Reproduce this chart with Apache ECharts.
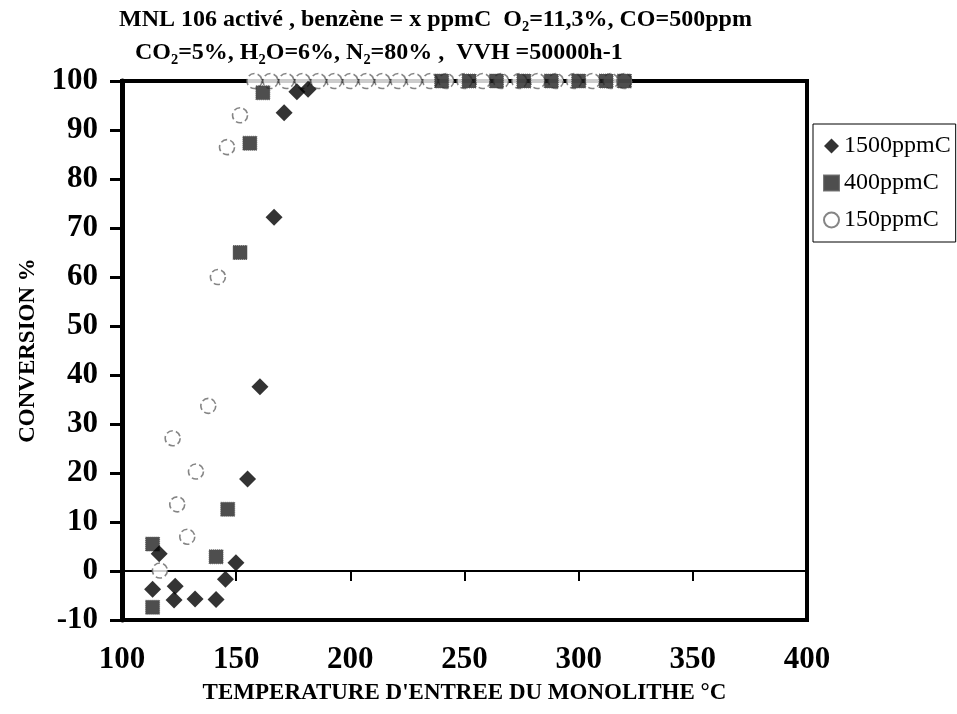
<!DOCTYPE html>
<html>
<head>
<meta charset="utf-8">
<script src="https://cdn.jsdelivr.net/npm/echarts@6/dist/echarts.min.js"></script>
<style>html,body{margin:0;padding:0;background:#fff}#c{width:957px;height:714px}</style>
</head>
<body>
<div id="c"></div>
<script>
// ---- data ----
const seriesNames = ['1500ppmC', '400ppmC', '150ppmC'];
const temp1500 = [113.4, 116.3, 122.8, 123.3, 132.0, 141.2, 145.3, 149.9, 155.0, 160.4, 166.6, 171.0, 176.6, 181.5];
const conv1500 = [-3.7, 3.5, -5.9, -3.1, -5.7, -5.8, -1.7, 1.7, 18.8, 37.6, 72.2, 93.5, 97.8, 98.3];
const temp400 = [113.4, 113.4, 141.2, 146.3, 151.7, 156.0, 161.7, 240, 252, 264, 276, 288, 300, 312, 320];
const conv400 = [5.5, -7.4, 2.9, 12.6, 65.0, 87.3, 97.6, 100, 100, 100, 100, 100, 100, 100, 100];
const temp150 = [116.6, 122.2, 124.2, 128.6, 132.4, 137.8, 142.0, 146.0, 151.7, 158, 165, 172, 179, 186, 193, 200, 207, 214, 221, 228, 235, 242, 250, 258, 266, 274, 282, 290, 298, 306, 314, 320];
const conv150 = [0.1, 27.1, 13.6, 7.0, 20.3, 33.7, 60.0, 86.5, 93.0, 100, 100, 100, 100, 100, 100, 100, 100, 100, 100, 100, 100, 100, 100, 100, 100, 100, 100, 100, 100, 100, 100, 100];
const xTicks = [100, 150, 200, 250, 300, 350, 400];
const yTicks = [-10, 0, 10, 20, 30, 40, 50, 60, 70, 80, 90, 100];
const titleLine1 = 'MNL 106 activé , benzène = x ppmC  O₂=11,3%, CO=500ppm';
const titleLine2 = 'CO₂=5%, H₂O=6%, N₂=80% ,  VVH =50000h-1';
const xName = "TEMPERATURE D'ENTREE DU MONOLITHE °C";
const yName = 'CONVERSION %';

function pairs(xs, ys) { return xs.map((x, i) => [x, ys[i]]); }

const serif = '"Liberation Serif", "Times New Roman", serif';
const chart = echarts.init(document.getElementById('c'));
chart.setOption({
  animation: false,
  backgroundColor: '#fff',
  title: [
    { text: titleLine1, left: 114, top: 3, textStyle: { fontFamily: serif, fontWeight: 'bold', fontSize: 24, color: '#000' } },
    { text: titleLine2, left: 130, top: 36, textStyle: { fontFamily: serif, fontWeight: 'bold', fontSize: 24, color: '#000' } }
  ],
  grid: { left: 122, right: 150, top: 81, bottom: 94, show: true, borderColor: '#000', borderWidth: 4, backgroundColor: 'transparent' },
  legend: {
    orient: 'vertical', left: 813, top: 124,
    padding: [9, 5, 9, 10], itemGap: 11, itemWidth: 15, itemHeight: 15,
    borderColor: '#000', borderWidth: 1,
    data: seriesNames,
    textStyle: { fontFamily: serif, fontSize: 24, color: '#000', lineHeight: 26 }
  },
  xAxis: [
    {
      type: 'value', min: xTicks[0], max: xTicks[xTicks.length - 1], interval: 50, position: 'bottom',
      axisLine: { onZero: true, lineStyle: { color: '#000', width: 2 } },
      axisTick: { show: true, length: 10, lineStyle: { color: '#000', width: 2 } },
      axisLabel: { show: false }, splitLine: { show: false }
    },
    {
      type: 'value', min: xTicks[0], max: xTicks[xTicks.length - 1], interval: 50, position: 'bottom',
      axisLine: { show: false, onZero: false }, axisTick: { show: false }, splitLine: { show: false },
      axisLabel: { margin: 24, fontFamily: serif, fontWeight: 'bold', fontSize: 31, color: '#000' },
      name: xName, nameLocation: 'middle', nameGap: 62,
      nameTextStyle: { fontFamily: serif, fontWeight: 'bold', fontSize: 23, color: '#000' }
    }
  ],
  yAxis: {
    type: 'value', min: yTicks[0], max: yTicks[yTicks.length - 1], interval: 10,
    axisLine: { show: true, onZero: false, lineStyle: { color: '#000', width: 5 } },
    axisTick: { show: true, inside: false, length: 12, lineStyle: { color: '#000', width: 3 } },
    axisLabel: { margin: 24, fontFamily: serif, fontWeight: 'bold', fontSize: 31, color: '#000' },
    splitLine: { show: false },
    name: yName, nameLocation: 'middle', nameGap: 82,
    nameTextStyle: { fontFamily: serif, fontWeight: 'bold', fontSize: 23, color: '#000' }
  },
  series: [
    {
      name: seriesNames[2], type: 'scatter', xAxisIndex: 0, symbol: 'circle', symbolSize: 15,
      itemStyle: { color: '#fff', borderColor: '#666', borderWidth: 1.6, borderType: 'dashed' },
      data: pairs(temp150, conv150), z: 2
    },
    {
      name: seriesNames[1], type: 'scatter', xAxisIndex: 0, symbol: 'rect', symbolSize: 14,
      itemStyle: { color: '#222', borderColor: '#555', borderWidth: 1, borderType: 'dotted' },
      data: pairs(temp400, conv400), z: 3
    },
    {
      name: seriesNames[0], type: 'scatter', xAxisIndex: 0, symbol: 'diamond', symbolSize: 17,
      itemStyle: { color: '#000' },
      data: pairs(temp1500, conv1500), z: 4
    }
  ]
});
</script>
</body>
</html>
